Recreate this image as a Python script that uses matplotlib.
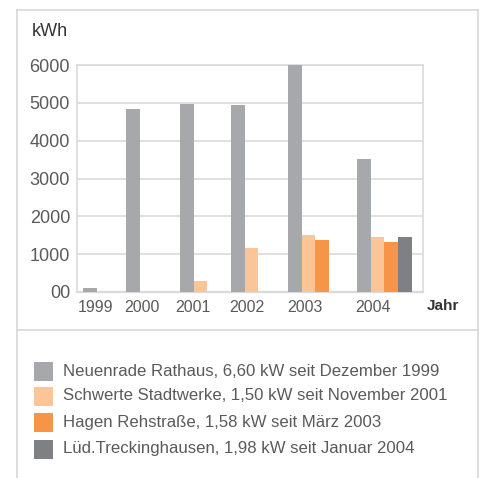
import matplotlib
matplotlib.use("Agg")
import matplotlib.pyplot as plt
from matplotlib.patches import Rectangle
from matplotlib.lines import Line2D

# data (kWh per year)
years = ["1999", "2000", "2001", "2002", "2003", "2004"]
neuenrade = [110, 4850, 4980, 4955, 6000, 3520]
schwerte = [0, 0, 290, 1170, 1510, 1455]
hagen = [0, 0, 0, 0, 1385, 1330]
lued = [0, 0, 0, 0, 0, 1455]
series_names = [
    "Neuenrade Rathaus, 6,60 kW seit Dezember 1999",
    "Schwerte Stadtwerke, 1,50 kW seit November 2001",
    "Hagen Rehstraße, 1,58 kW seit März 2003",
    "Lüd.Treckinghausen, 1,98 kW seit Januar 2004",
]
y_ticks = [0, 1000, 2000, 3000, 4000, 5000, 6000]
y_ticklabels = ["00", "1000", "2000", "3000", "4000", "5000", "6000"]

colors = ["#a7a8ab", "#fbc598", "#f69447", "#7f8084"]
text_col = "#5a5a5a"
line_col = "#dadada"
W, H = 486, 478

plt.rcParams['font.family'] = ['Liberation Sans', 'DejaVu Sans']

fig = plt.figure(figsize=(W / 100, H / 100), dpi=100)
ax = fig.add_axes([77 / W, 1 - 292 / H, 346 / W, 227 / H])

# layout (pixel offsets inside the plot area)
group_left = [6, 49, 103, 154, 211, 280]
label_x = [18, 65, 116, 170, 228, 296]
bw = 13.7

all_series = [neuenrade, schwerte, hagen, lued]
for gi, x0 in enumerate(group_left):
    k = 0
    for si, s in enumerate(all_series):
        if s[gi] > 0:
            ax.bar(x0 + k * bw, s[gi], width=bw, align="edge",
                   color=colors[si], linewidth=0, zorder=3)
            k += 1

ax.set_xlim(0, 346)
ax.set_ylim(0, 6000)
ax.set_yticks(y_ticks)
ax.set_yticklabels(y_ticklabels)
ax.set_xticks(label_x)
ax.set_xticklabels(years)
ax.tick_params(axis="y", length=0, pad=5, labelsize=13, labelcolor=text_col)
ax.tick_params(axis="x", length=0, pad=6, labelsize=11.5, labelcolor=text_col)
ax.grid(axis="y", color=line_col, linewidth=1.2, zorder=0)
for sp in ax.spines.values():
    sp.set_color(line_col)
    sp.set_linewidth(1.2)
ax.spines["bottom"].set_linewidth(1.6)

fig.text(32 / W, 1 - 31 / H, "kWh", fontsize=13, color="#333333",
         va="center", ha="left")
fig.text(427 / W, 1 - 306 / H, "Jahr", fontsize=11, color="#333333",
         va="center", ha="left", fontweight="bold")

# outer frame and divider
frame_kw = dict(color="#d8d8d8", linewidth=1.2, transform=fig.transFigure)
fig.add_artist(Line2D([17 / W, 17 / W], [0, 1 - 10 / H], **frame_kw))
fig.add_artist(Line2D([478 / W, 478 / W], [0, 1 - 10 / H], **frame_kw))
fig.add_artist(Line2D([17 / W, 478 / W], [1 - 10 / H, 1 - 10 / H], **frame_kw))
fig.add_artist(Line2D([17 / W, 478 / W], [1 - 330 / H, 1 - 330 / H], **frame_kw))

# legend
row_y = [371, 396, 422, 449]
for name, c, yy in zip(series_names, colors, row_y):
    fig.add_artist(Rectangle((34 / W, 1 - (yy + 9.5) / H), 19 / W, 19 / H,
                             color=c, transform=fig.transFigure, linewidth=0))
    fig.text(63 / W, 1 - yy / H, name, fontsize=12.1, color=text_col,
             va="center", ha="left")

fig.savefig("out.png", dpi=100)
